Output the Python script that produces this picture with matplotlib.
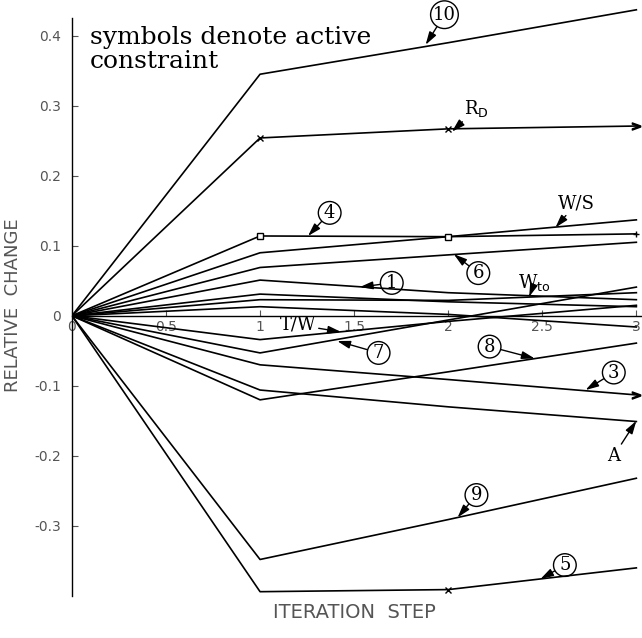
import matplotlib
matplotlib.use('Agg')
import matplotlib.pyplot as plt

# iteration steps and relative changes
steps = [0, 1, 2, 3]

line_10 = [0, 0.345, 0.390, 0.437]
line_rd = [0, 0.254, 0.267, 0.271]
line_4 = [0, 0.114, 0.113, 0.117]
line_ws = [0, 0.090, 0.113, 0.137]
line_6 = [0, 0.069, 0.087, 0.105]
line_1 = [0, 0.051, 0.033, 0.023]
line_2 = [0, 0.031, 0.020, 0.013]
line_wto = [0, 0.023, 0.022, 0.033]
line_u = [0, 0.013, 0.002, -0.016]
line_tw = [0, -0.034, -0.008, 0.015]
line_7 = [0, -0.053, -0.006, 0.041]
line_3 = [0, -0.070, -0.091, -0.113]
line_a = [0, -0.106, -0.130, -0.151]
line_8 = [0, -0.120, -0.080, -0.039]
line_9 = [0, -0.348, -0.291, -0.232]
line_5 = [0, -0.394, -0.391, -0.360]

xticks = [0, 0.5, 1, 1.5, 2, 2.5, 3]
xticklabels = ['0', '0.5', '1', '1.5', '2', '2.5', '3']
yticks = [-0.3, -0.2, -0.1, 0, 0.1, 0.2, 0.3, 0.4]
yticklabels = ['-0.3', '-0.2', '-0.1', '0', '0.1', '0.2', '0.3', '0.4']

fig = plt.figure(figsize=(6.42, 6.38), dpi=100)
ax = fig.add_axes([0.112, 0.066, 0.888, 0.934])

lw = 1.2
for ys in [line_10, line_ws, line_6, line_1, line_2, line_wto, line_u,
           line_tw, line_7, line_a, line_8, line_9]:
    ax.plot(steps, ys, color='black', lw=lw)

ax.plot(steps, line_rd, color='black', lw=lw, marker='x', ms=5, mew=1, markevery=[1, 2])
ax.plot(steps[3:], line_rd[3:], color='black', marker='$>$', ms=6, ls='none')
ax.plot(steps, line_4, color='black', lw=lw, marker='s', ms=4, mfc='white', mew=1, markevery=[1, 2])
ax.plot(steps[3:], line_4[3:], color='black', marker='+', ms=5, ls='none')
ax.plot(steps, line_3, color='black', lw=lw)
ax.plot(steps[3:], line_3[3:], color='black', marker='$>$', ms=6, ls='none')
ax.plot(steps, line_5, color='black', lw=lw, marker='x', ms=5, mew=1, markevery=[2])

ax.set_xlim(0, 3.03)
ax.set_ylim(-0.4, 0.451)

ax.spines['top'].set_visible(False)
ax.spines['right'].set_visible(False)
ax.spines['bottom'].set_position(('data', 0))
ax.spines['left'].set_bounds(-0.4, 0.425)
ax.spines['left'].set_linewidth(1.0)
ax.spines['bottom'].set_linewidth(1.0)

ax.set_xticks(xticks)
ax.set_xticklabels(xticklabels)
ax.set_yticks(yticks)
ax.set_yticklabels(yticklabels)
ax.tick_params(axis='both', direction='in', length=4, width=0.8,
               labelsize=10, labelcolor='#555555', color='#555555')
ax.tick_params(axis='x', pad=3)
ax.tick_params(axis='y', pad=8)

ax.text(-0.315, 0.015, 'RELATIVE  CHANGE', rotation=90, ha='center', va='center',
        fontsize=13, color='#555555', transform=ax.transData)
ax.text(1.5, -0.424, 'ITERATION  STEP', ha='center', va='center',
        fontsize=14, color='#555555', transform=ax.transData, clip_on=False)

serif = 'DejaVu Serif'
ax.text(0.095, 0.414, 'symbols denote active\nconstraint', ha='left', va='top',
        fontsize=18, family=serif, linespacing=1.05)

arrow = dict(arrowstyle='-|>,head_length=0.6,head_width=0.18', color='black', lw=1.0,
             shrinkA=0, shrinkB=0)
circ = dict(boxstyle='circle,pad=0.13', fc='none', ec='black', lw=1.0)

circled = [('10', (1.98, 0.430), (1.88, 0.387)),
           ('4', (1.37, 0.147), (1.255, 0.114)),
           ('6', (2.16, 0.061), (2.03, 0.088)),
           ('1', (1.70, 0.047), (1.53, 0.041)),
           ('7', (1.63, -0.053), (1.41, -0.036)),
           ('8', (2.22, -0.044), (2.46, -0.061)),
           ('3', (2.88, -0.081), (2.73, -0.106)),
           ('9', (2.15, -0.256), (2.05, -0.288)),
           ('5', (2.62, -0.356), (2.49, -0.376))]
for txt, pos, tgt in circled:
    ax.annotate(txt, xy=tgt, xytext=pos, ha='center', va='center', fontsize=13,
                family=serif, bbox=circ, arrowprops=arrow)

labels = [(r'R$_\mathrm{D}$', (2.15, 0.296), (2.02, 0.263)),
          ('W/S', (2.68, 0.160), (2.57, 0.126)),
          (r'W$_\mathrm{to}$', (2.46, 0.048), (2.43, 0.027)),
          ('T/W', (1.20, -0.013), (1.43, -0.023)),
          ('A', (2.88, -0.200), (3.0, -0.150))]
for txt, pos, tgt in labels:
    ax.annotate(txt, xy=tgt, xytext=pos, ha='center', va='center', fontsize=13,
                family=serif, arrowprops=arrow)

fig.savefig('out.png', dpi=100)
